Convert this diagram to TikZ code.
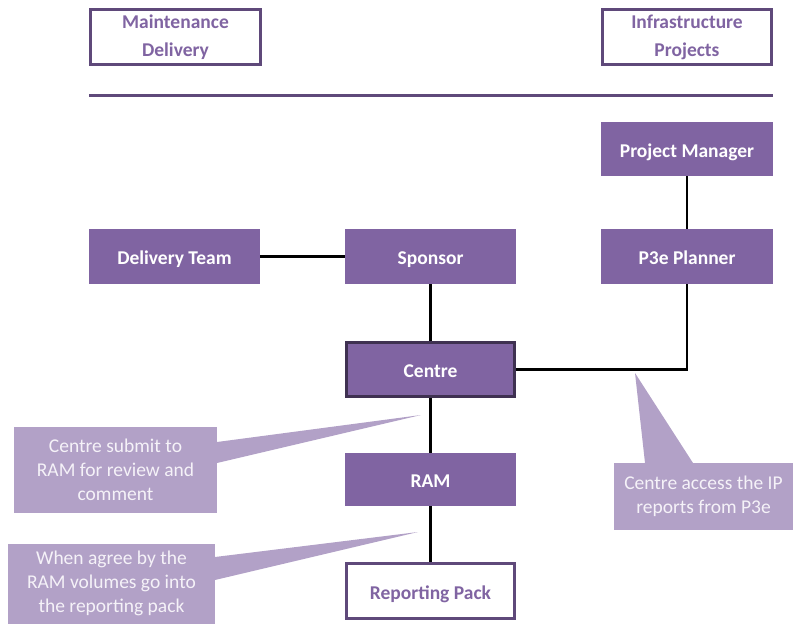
\documentclass[tikz,border=0pt]{standalone}
\usepackage{fontspec}
\setmainfont{Carlito}
\definecolor{boxfill}{HTML}{8064A2}
\definecolor{boxedge}{HTML}{5F497A}
\definecolor{darkedge}{HTML}{3F3151}
\definecolor{notefill}{HTML}{B2A1C7}
\definecolor{notetext}{HTML}{F5F2F8}
\begin{document}
\begin{tikzpicture}[x=1pt,y=-1pt,
  solidbox/.style={fill=boxfill,draw=none,text=white,font=\bfseries\fontsize{19.5}{23}\selectfont,
    inner sep=0pt,align=center,text height=16.5pt,text depth=0pt},
  openbox/.style={fill=white,draw=boxedge,line width=3pt,text=boxfill,
    font=\bfseries\fontsize{19.5}{28}\selectfont,inner sep=0pt,align=center},
  oneline/.style={text height=16.5pt,text depth=0pt},
  link/.style={draw=black,line width=2.6pt},
  note/.style={fill=notefill,draw=none,text=notetext,inner sep=0pt,align=center,
    font=\fontsize{19.5}{24}\selectfont}]
\useasboundingbox (0,0) rectangle (793,627);

% header boxes and rule
\node[openbox,minimum width=170pt,minimum height=55pt] (md) at (175.5,37) {Maintenance\\Delivery};
\node[openbox,minimum width=169pt,minimum height=55pt] (ip) at (687,37) {Infrastructure\\Projects};
\coordinate (ruleL) at (89,95);
\coordinate (ruleR) at (773,95);
\draw[draw=boxedge,line width=3pt] (ruleL) -- (ruleR);

% organisation boxes
\node[solidbox,minimum width=172pt,minimum height=54pt] (pm) at (687,149) {Project Manager};
\node[solidbox,minimum width=172pt,minimum height=55pt] (p3e) at (687,256.5) {P3e Planner};
\node[solidbox,minimum width=171pt,minimum height=55pt] (dt) at (174.5,256.5) {Delivery Team};
\node[solidbox,minimum width=171pt,minimum height=55pt] (sp) at (430.5,256.5) {Sponsor};
\node[solidbox,draw=darkedge,line width=3pt,minimum width=168pt,minimum height=54pt] (ce) at (430.5,369.5) {Centre};
\node[solidbox,minimum width=171pt,minimum height=53pt] (ram) at (430.5,479.5) {RAM};
\node[openbox,oneline,minimum width=168pt,minimum height=55pt] (rp) at (430.5,591) {Reporting Pack};

% connectors
\draw[link] (dt.east) -- (sp.west);
\draw[link] (sp.south) -- (ce.north);
\draw[link] (ce.south) -- (ram.north);
\draw[link] (ram.south) -- (rp.north);
\draw[link] (pm.south) -- (p3e.north);
\draw[link] (p3e.south) |- (ce.east);

% callouts
\coordinate (tipA) at (421,415);
\coordinate (tipB) at (418,532);
\coordinate (tipC) at (635,373);
\fill[notefill] (217,442) -- (tipA) -- (217,463) -- cycle;
\fill[notefill] (215,557) -- (tipB) -- (215,580) -- cycle;
\fill[notefill] (645,463) -- (tipC) -- (693,463) -- cycle;
\node[note,minimum width=203pt,minimum height=86pt] (na) at (115.5,470) {Centre submit to\\RAM for review and\\comment};
\node[note,minimum width=207pt,minimum height=80pt] (nb) at (111.5,583.5) {When agree by the\\RAM volumes go into\\the reporting pack};
\node[note,minimum width=179pt,minimum height=67pt] (nc) at (703.5,496.5) {Centre access the IP\\reports from P3e};
\end{tikzpicture}
\end{document}
